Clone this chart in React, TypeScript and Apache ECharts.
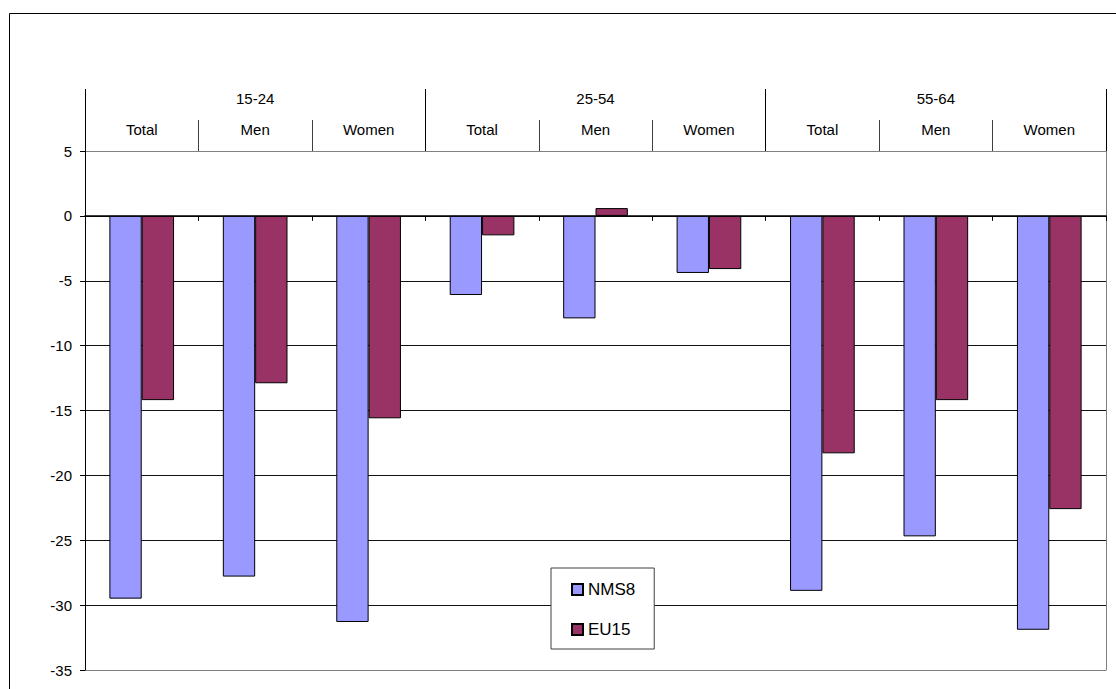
import React, { useEffect, useRef } from 'react';
import * as echarts from 'echarts';

const ageGroups = ['15-24', '25-54', '55-64'];
const categories = ['Total', 'Men', 'Women', 'Total', 'Men', 'Women', 'Total', 'Men', 'Women'];
const nms8 = [-29.5, -27.8, -31.3, -6.1, -7.9, -4.4, -28.9, -24.7, -31.9];
const eu15 = [-14.2, -12.9, -15.6, -1.5, 0.6, -4.1, -18.3, -14.2, -22.6];
const yMin = -35;
const yMax = 5;
const yStep = 5;

export default function App() {
  const ref = useRef<HTMLDivElement>(null);
  useEffect(() => {
    const chart = echarts.init(ref.current!, null, { renderer: 'svg' });
    const font = '"Liberation Sans", Arial, sans-serif';
    const gridColors = ['#808080', '#111', '#111', '#111', '#111', '#111', '#111', '#111', '#808080'];
    chart.setOption({
      animation: false,
      backgroundColor: '#fff',
      textStyle: { fontFamily: font },
      grid: { left: 85, top: 151, right: 10, bottom: 19, containLabel: false },
      legend: {
        orient: 'vertical',
        left: 551,
        top: 568,
        padding: [13, 19, 11, 20],
        itemGap: 23,
        itemWidth: 11,
        itemHeight: 11,
        icon: 'rect',
        backgroundColor: '#fff',
        borderColor: '#404040',
        borderWidth: 1,
        textStyle: { fontFamily: font, fontSize: 17, color: '#000', lineHeight: 17 },
        data: ['NMS8', 'EU15'],
      },
      xAxis: [
        {
          type: 'category',
          data: categories,
          position: 'top',
          axisLine: { show: false, onZero: false },
          axisTick: { show: true, length: 31, interval: 0, lineStyle: { color: '#404040' } },
          axisLabel: { interval: 0, margin: 14, fontSize: 15, color: '#000', fontFamily: font },
          splitLine: { show: false },
        },
        {
          type: 'category',
          data: ageGroups,
          position: 'top',
          axisLine: { show: false, onZero: false },
          axisTick: { show: true, length: 62, interval: 0, lineStyle: { color: '#000' } },
          axisLabel: { interval: 0, margin: 45, fontSize: 15, color: '#000', fontFamily: font },
          splitLine: { show: false },
        },
        {
          type: 'category',
          data: categories,
          position: 'bottom',
          axisLine: { show: true, onZero: true, lineStyle: { color: '#000', width: 1.5 } },
          axisTick: { show: true, length: 5, interval: 0, lineStyle: { color: '#000' } },
          axisLabel: { show: false },
          splitLine: { show: false },
        },
      ],
      yAxis: [
        {
          type: 'value',
          min: yMin,
          max: yMax,
          interval: yStep,
          axisLine: { show: true, lineStyle: { color: '#000' } },
          axisTick: { show: true, length: 5, lineStyle: { color: '#000' } },
          axisLabel: { fontSize: 15, color: '#000', margin: 13, fontFamily: font },
          splitLine: { show: true, lineStyle: { color: gridColors, width: 1 } },
        },
        {
          type: 'value',
          min: yMin,
          max: yMax,
          interval: yStep,
          position: 'right',
          axisLine: { show: true, lineStyle: { color: '#808080' } },
          axisTick: { show: false },
          axisLabel: { show: false },
          splitLine: { show: false },
        },
      ],
      series: [
        {
          name: 'NMS8',
          type: 'bar',
          xAxisIndex: 2,
          yAxisIndex: 0,
          data: nms8,
          barGap: '0%',
          barCategoryGap: '43%',
          itemStyle: { color: '#9999FF', borderColor: '#000', borderWidth: 1 },
        },
        {
          name: 'EU15',
          type: 'bar',
          xAxisIndex: 2,
          yAxisIndex: 0,
          data: eu15,
          barGap: '0%',
          barCategoryGap: '43%',
          itemStyle: { color: '#993366', borderColor: '#000', borderWidth: 1 },
        },
      ],
      graphic: [
        {
          type: 'rect',
          silent: true,
          shape: { x: 9.5, y: 13.5, width: 1200, height: 800 },
          style: { fill: 'none', stroke: '#000', lineWidth: 1 },
          z: 100,
        },
      ],
    });
    return () => chart.dispose();
  }, []);
  return (
    <div
      ref={ref}
      style={{ position: 'fixed', left: 0, top: 0, width: 1116, height: 689, background: '#fff' }}
    />
  );
}
